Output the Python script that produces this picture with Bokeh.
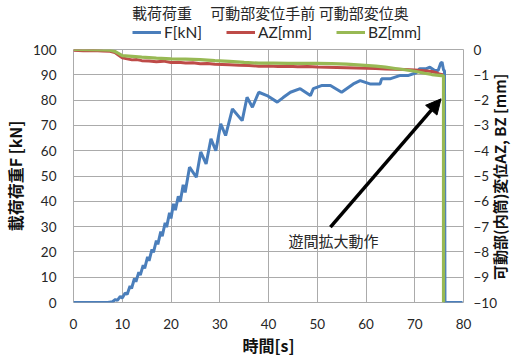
import math

from bokeh.plotting import figure
from bokeh.layouts import column
from bokeh.models import (Range1d, LinearAxis, FixedTicker, Legend, LegendItem,
                          Arrow, NormalHead, Label)
from bokeh.embed import file_html
from bokeh.resources import INLINE

# Load F [kN] against time [s]
f_time = [0.0, 7.0, 8.0, 8.6, 9.0, 9.6, 10.0, 10.6, 11.0, 11.6, 11.9, 12.5, 12.8,
          13.4, 13.7, 14.3, 14.6, 15.2, 15.5, 16.1, 16.4, 17.0, 17.3, 17.9, 18.2,
          18.8, 19.1, 19.7, 20.0, 20.5, 20.9, 21.5, 21.9, 22.5, 22.9, 23.8, 25.2,
          26.1, 27.2, 28.2, 29.2, 30.2, 31.2, 32.6, 34.6, 35.6, 36.7, 38.0, 39.7,
          41.8, 43.0, 44.5, 46.5, 48.6, 49.2, 51.0, 52.7, 55.0, 57.4, 58.8, 60.8,
          62.9, 63.2, 64.9, 66.9, 68.6, 70.3, 71.0, 72.4, 73.1, 74.1, 74.8, 75.3,
          75.6, 75.9, 76.1, 76.2, 79.8]
f_kn = [0.0, 0.0, 0.3, 1.2, 0.8, 2.4, 1.8, 3.8, 3.2, 6.5, 5.5, 9.5, 8.2,
        12.0, 10.8, 14.8, 13.5, 18.0, 16.5, 21.0, 19.8, 24.5, 23.0, 28.0, 26.2,
        31.5, 29.8, 35.5, 33.2, 39.0, 36.5, 42.0, 39.8, 46.5, 43.5, 53.5, 49.5,
        59.5, 54.8, 64.7, 60.0, 70.6, 66.0, 76.5, 71.9, 81.1, 77.2, 83.1, 81.8,
        79.2, 81.0, 83.1, 84.5, 81.8, 84.5, 85.8, 85.8, 83.1, 86.4, 87.7, 86.4,
        86.4, 88.4, 88.4, 89.7, 89.7, 90.8, 92.4, 92.4, 93.0, 91.7, 91.7, 94.5,
        95.0, 92.0, 91.5, 0.0, 0.0]

# Front displacement AZ [mm]
az_time = [0, 2, 4, 6, 7.5, 8.5, 9.2, 10, 11, 12, 13, 14, 15.5, 17, 18.5, 20,
           21.5, 23, 24.5, 26, 27.5, 29, 30.5, 32, 34, 36, 38, 40, 42, 44, 46,
           48, 50, 52, 54, 56, 58, 60, 62, 64, 66, 68, 70, 72, 73.5, 74.5, 75.2,
           75.8]
az_mm = [-0.03, -0.05, -0.04, -0.06, -0.07, -0.12, -0.22, -0.33, -0.37, -0.41,
         -0.40, -0.44, -0.45, -0.48, -0.46, -0.51, -0.50, -0.53, -0.52, -0.56,
         -0.55, -0.58, -0.59, -0.60, -0.62, -0.63, -0.66, -0.65, -0.67, -0.66,
         -0.68, -0.67, -0.69, -0.70, -0.71, -0.72, -0.73, -0.74, -0.75, -0.77,
         -0.78, -0.79, -0.81, -0.84, -0.87, -0.92, -0.98, -1.00]

# Rear displacement BZ [mm]
bz_time = [0, 3, 6, 7.5, 8.5, 9.3, 10, 12, 14, 17, 20, 23, 26, 29, 32, 35, 38,
           41, 44, 47, 50, 53, 56, 59, 62, 64, 66, 68, 70, 72, 73.5, 75, 75.9,
           75.9]
bz_mm = [0.0, -0.01, -0.02, -0.03, -0.08, -0.16, -0.24, -0.27, -0.30, -0.34,
         -0.37, -0.38, -0.40, -0.44, -0.47, -0.51, -0.54, -0.54, -0.55, -0.55,
         -0.55, -0.56, -0.58, -0.62, -0.66, -0.70, -0.75, -0.80, -0.86, -0.94,
         -0.99, -1.02, -1.04, -10.0]

x_ticks = [0, 10, 20, 30, 40, 50, 60, 70, 80]
f_ticks = [0, 10, 20, 30, 40, 50, 60, 70, 80, 90, 100]
z_ticks = [-10, -9, -8, -7, -6, -5, -4, -3, -2, -1, 0]

series_heads = "載荷荷重　 可動部変位手前 可動部変位奥"
series_names = ["F[kN]", "AZ[mm]", "BZ[mm]"]
note_text = "遊間拡大動作"
z_title = "可動部(内筒)変位AZ, BZ [mm]"

FONT = "Noto Sans CJK JP"
LATIN = "Lato"
BLUE, RED, GREEN = "#4a7ebb", "#be4b48", "#98b954"
COLORS = [BLUE, RED, GREEN]
GRID = "#ababab"
TXT = "#262626"

W = 523
HEAD_H = 41
MAIN_H = 360 - HEAD_H

# ---- main chart -------------------------------------------------------------
p = figure(width=W, height=MAIN_H, output_backend="svg", toolbar_location=None,
           x_range=Range1d(0, 80), y_range=Range1d(0, 100),
           min_border_left=72, min_border_right=59, min_border_top=8,
           min_border_bottom=58, background_fill_color="white",
           border_fill_color="white", outline_line_color=GRID)
p.extra_y_ranges = {"z": Range1d(-10, 0)}

p.line(f_time, f_kn, line_color=BLUE, line_width=3)
p.line(az_time, az_mm, line_color=RED, line_width=3, y_range_name="z")
p.line(bz_time, bz_mm, line_color=GREEN, line_width=3.2, y_range_name="z")

p.xaxis.ticker = FixedTicker(ticks=x_ticks)
p.yaxis.ticker = FixedTicker(ticks=f_ticks)
p.xaxis.axis_label = "時間[s]"
p.yaxis.axis_label = "載荷荷重F [kN]"

zaxis = LinearAxis(y_range_name="z", ticker=FixedTicker(ticks=z_ticks),
                   axis_label=z_title)
p.add_layout(zaxis, "right")

for ax in [p.xaxis[0], p.yaxis[0], zaxis]:
    ax.axis_line_color = None
    ax.major_tick_line_color = None
    ax.minor_tick_line_color = None
    ax.major_tick_out = 0
    ax.major_tick_in = 0
    ax.minor_tick_out = 0
    ax.minor_tick_in = 0
    ax.major_label_text_font = LATIN
    ax.major_label_text_font_size = "13.5px"
    ax.major_label_text_color = TXT
    ax.axis_label_text_font = FONT
    ax.axis_label_text_font_size = "16px"
    ax.axis_label_text_font_style = "bold"
    ax.axis_label_text_color = "#111111"

p.xaxis.major_label_standoff = 16
p.xaxis.axis_label_standoff = 1
p.yaxis.major_label_standoff = 17
p.yaxis.axis_label_standoff = 3
zaxis.major_label_standoff = 10
zaxis.axis_label_standoff = 0
zaxis.axis_label_text_font_size = "15px"

# right-hand title reads bottom-to-top, like the left one: it starts at the
# foot of the axis and runs upwards, after a little lead-in space
if "axis_label_align" in zaxis.properties():
    zaxis.axis_label_orientation = math.pi / 2
    zaxis.axis_label_align = "start"
    zaxis.axis_label = "\u3000\u2002" + z_title

p.xgrid.ticker = FixedTicker(ticks=x_ticks)
p.ygrid.ticker = FixedTicker(ticks=f_ticks)
p.grid.grid_line_color = GRID
p.grid.grid_line_width = 1

arrow_tail = (52.7, 29.8)
arrow_tip = (75.4, 80.5)
p.add_layout(Arrow(end=NormalHead(size=15, fill_color="black", line_color="black"),
                   x_start=arrow_tail[0], y_start=arrow_tail[1],
                   x_end=arrow_tip[0], y_end=arrow_tip[1],
                   line_color="black", line_width=3.5))
p.add_layout(Label(x=44.1, y=24.5, text=note_text, text_baseline="middle",
                   text_font=FONT, text_font_size="15px", text_color=TXT))

# ---- series key strip above the chart ---------------------------------------
head = figure(width=W, height=HEAD_H, output_backend="svg", toolbar_location=None,
              x_range=Range1d(0, 1), y_range=Range1d(0, 1),
              x_axis_location=None, y_axis_location=None,
              min_border_left=0, min_border_right=0, min_border_top=0,
              min_border_bottom=0, outline_line_color=None,
              background_fill_color="white", border_fill_color="white")
head.grid.visible = False
# key swatches only: a single empty point per series, nothing is plotted here
key_lines = [head.line([math.nan], [math.nan], line_color=c, line_width=3)
             for c in COLORS]

legend = Legend(items=[LegendItem(label=n, renderers=[r]) for n, r in
                       zip(series_names, key_lines)],
                orientation="horizontal", location=(59, 0),
                title=series_heads, title_text_font=FONT,
                title_text_font_size="15px", title_text_font_style="normal",
                title_text_color=TXT, title_standoff=0,
                label_text_font=LATIN, label_text_font_size="15.5px",
                label_text_color=TXT, glyph_width=29, glyph_height=14,
                label_standoff=3, spacing=24, padding=0, margin=0,
                border_line_color=None, background_fill_alpha=0)
head.add_layout(legend)

open("out.html", "w").write(file_html(column(head, p, spacing=0), INLINE))
